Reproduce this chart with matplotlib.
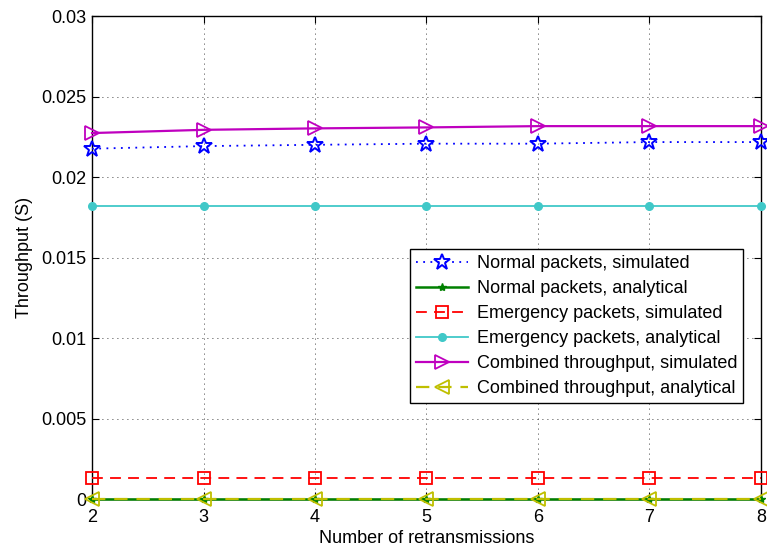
import matplotlib
matplotlib.use("Agg")
from matplotlib import pyplot as plt

plt.rcParams['font.family'] = ['Liberation Sans', 'DejaVu Sans']

retrans = [2, 3, 4, 5, 6, 7, 8]
normal_sim = [0.02176, 0.02192, 0.0220, 0.02207, 0.02207, 0.02217, 0.02217]
normal_ana = [0.0, 0.0, 0.0, 0.0, 0.0, 0.0, 0.0]
emerg_sim = [0.0013, 0.0013, 0.0013, 0.0013, 0.0013, 0.0013, 0.0013]
emerg_ana = [0.01823, 0.01823, 0.01823, 0.01823, 0.01823, 0.01823, 0.01823]
comb_sim = [0.02273, 0.02293, 0.02302, 0.02308, 0.02316, 0.02316, 0.02316]
comb_ana = [0.0, 0.0, 0.0, 0.0, 0.0, 0.0, 0.0]

yticks = [0, 0.005, 0.01, 0.015, 0.02, 0.025, 0.03]
ytick_labels = ['0', '0.005', '0.01', '0.015', '0.02', '0.025', '0.03']

fig = plt.figure(figsize=(7.67, 5.52), dpi=100)
ax = fig.add_axes([0.12, 0.096, 0.872, 0.875])

ax.plot(retrans, normal_sim, color='blue', linestyle=(0, (1, 3)), marker='*', markersize=12,
        markerfacecolor='none', markeredgewidth=1.4, linewidth=1.3,
        label='Normal packets, simulated', clip_on=False, zorder=3)
ax.plot(retrans, normal_ana, color='#008000', linestyle='-', marker='*', markersize=6,
        linewidth=1.8, label='Normal packets, analytical', clip_on=False, zorder=3)
ax.plot(retrans, emerg_sim, color='red', linestyle=(0, (6, 4)), marker='s', markersize=8,
        markerfacecolor='none', markeredgewidth=1.3, linewidth=1.3,
        label='Emergency packets, simulated', clip_on=False, zorder=3)
ax.plot(retrans, emerg_ana, color='#40c8c8', linestyle='-', marker='o', markersize=5.5,
        linewidth=1.3, label='Emergency packets, analytical', clip_on=False, zorder=3)
ax.plot(retrans, comb_sim, color='#bf00bf', linestyle='-', marker='>', markersize=10,
        markerfacecolor='none', markeredgewidth=1.3, linewidth=1.6,
        label='Combined throughput, simulated', clip_on=False, zorder=3)
ax.plot(retrans, comb_ana, color='#bfbf00', linestyle=(0, (6, 4)), marker='<', markersize=10,
        markerfacecolor='none', markeredgewidth=1.3, linewidth=1.6,
        label='Combined throughput, analytical', clip_on=False, zorder=4)

ax.set_xlim(2, 8)
ax.set_ylim(0, 0.03)
ax.set_xticks(retrans)
ax.set_yticks(yticks)
ax.set_yticklabels(ytick_labels)
ax.tick_params(direction='in', top=True, right=True, labelsize=13, length=5)
ax.tick_params(axis='x', pad=7)
ax.tick_params(axis='y', pad=4)
ax.grid(True, color='black', linestyle=(0, (1, 5)), linewidth=0.6)
for s in ax.spines.values():
    s.set_linewidth(1.0)

ax.set_xlabel('Number of retransmissions', fontsize=13, labelpad=3)
ax.set_ylabel('Throughput (S)', fontsize=13, labelpad=6)

leg = ax.legend(loc='lower right', bbox_to_anchor=(0.973, 0.199), fontsize=13,
                frameon=True, fancybox=False, edgecolor='black', framealpha=1,
                borderaxespad=0, handlelength=2.9, handletextpad=0.5, numpoints=1,
                labelspacing=0.45, borderpad=0.3)
leg.get_frame().set_linewidth(1.0)

fig.savefig('out.png', dpi=100)
